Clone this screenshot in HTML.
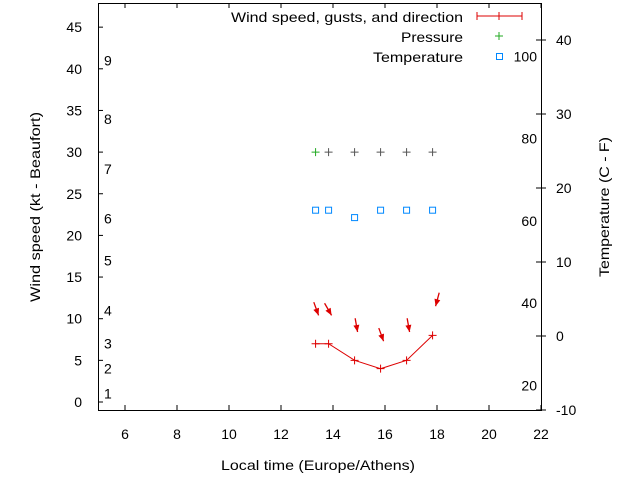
<!DOCTYPE html>
<html><head><meta charset="utf-8"><style>
body{margin:0;background:#fff;}
svg{display:block;font-family:"Liberation Sans",sans-serif;font-size:14px;}
</style></head><body>
<svg id="chart" width="640" height="480" viewBox="0 0 640 480">
<rect x="98.5" y="3.5" width="443" height="407" fill="none" stroke="#000"/>
<g id="axes"></g><g id="marks"></g>
<text x="318" y="470" text-anchor="middle" textLength="194" lengthAdjust="spacingAndGlyphs">Local time (Europe/Athens)</text>
<text transform="translate(40,207) rotate(-90)" text-anchor="middle" textLength="190" lengthAdjust="spacingAndGlyphs">Wind speed (kt - Beaufort)</text>
<text transform="translate(609,207) rotate(-90)" text-anchor="middle" textLength="140" lengthAdjust="spacingAndGlyphs">Temperature (C - F)</text>
<g>
<text x="463" y="22" text-anchor="end" textLength="232" lengthAdjust="spacingAndGlyphs">Wind speed, gusts, and direction</text>
<path d="M477 16H522M477 12v8M522 12v8M499 12v8" stroke="#d00" fill="none"/>
<text x="463" y="42" text-anchor="end" textLength="62" lengthAdjust="spacingAndGlyphs">Pressure</text>
<path d="M495 36h8M499 32v8" stroke="#2a2"/>
<text x="463" y="62" text-anchor="end" textLength="90" lengthAdjust="spacingAndGlyphs">Temperature</text>
<rect x="496.5" y="53.5" width="6" height="6" fill="none" stroke="#08f"/>
</g>
</svg>
<script>
const times=[13.33,13.83,14.83,15.83,16.83,17.83];
const wind=[7,7,5,4,5,8];
const pressure=[30,30,30,30,30,30];
const temperature=[17,17,16,17,17,17];
const arrowTip=[10.4,10.4,8.4,7.3,8.4,11.5];
const arrowAngle=[20,30,10,20,10,-15];
const xTicks=[6,8,10,12,14,16,18,20,22];
const yTicks=[0,5,10,15,20,25,30,35,40,45];
const y2Ticks=[-10,0,10,20,30,40];
const fTicks=[20,40,60,80,100];
const beaufort=[[1,1],[2,4],[3,7],[4,11],[5,17],[6,22],[7,28],[8,34],[9,41]];
const X=v=>99+(v-5)*26, Y=v=>402-v*8.33, Y2=v=>410-(v+10)*7.4;
const NS='http://www.w3.org/2000/svg';
const ax=document.getElementById('axes'), mk=document.getElementById('marks');
function el(t,a,p,txt){const e=document.createElementNS(NS,t);for(const k in a)e.setAttribute(k,a[k]);if(txt!=null)e.textContent=txt;p.appendChild(e);return e;}
xTicks.forEach(v=>{const x=X(v);
el('path',{d:`M${x} 410v-5M${x} 3v5`,stroke:'#000'},ax);
const t=el('text',{x:x,y:439,'text-anchor':'middle'},ax,v);

});
yTicks.forEach(v=>{const y=Y(v);
el('path',{d:`M98 ${y}h5`,stroke:'#000'},ax);
const t=el('text',{x:82,y:y+5,'text-anchor':'end'},ax,v);

});
y2Ticks.forEach(v=>{const y=Y2(v);
el('path',{d:`M541 ${y}h-5M541 ${y}h5`,stroke:'#000'},ax);
const t=el('text',{x:556,y:y+5},ax,v);

});
fTicks.forEach(v=>{const y=Y2((v-32)*5/9);
const t=el('text',{x:537,y:y+5,'text-anchor':'end'},ax,v);

});
beaufort.forEach(([b,k])=>{const t=el('text',{x:104,y:Y(k)+5},ax,b);

});
const line=el('polyline',{points:times.map((t,i)=>X(t)+','+Y(wind[i])).join(' '),fill:'none',stroke:'#d00'},mk);


times.forEach((t,i)=>{const x=X(t);
const w=el('path',{d:`M${x-4} ${Y(wind[i])}h8M${x} ${Y(wind[i])-4}v8`,stroke:'#d00'},mk);


const p=el('path',{d:`M${x-4} ${Y(pressure[i])}h8M${x} ${Y(pressure[i])-4}v8`,stroke:i==0?'#2a2':'#555'},mk);


const ty=Y2(temperature[i]);
const r=el('rect',{x:x-3,y:ty-3,width:6,height:6,fill:'none',stroke:'#08f'},mk);


const a=arrowAngle[i]*Math.PI/180, tx=x+3, tyy=Y(arrowTip[i]);
const dx=Math.sin(a), dy=Math.cos(a);
const sx=tx-dx*14, sy=tyy-dy*14;
const g=el('g',{},mk);


el('line',{x1:sx,y1:sy,x2:tx,y2:tyy,stroke:'#d00','stroke-width':1.3},g);
const px=-dy, py=dx;
el('polygon',{points:`${tx},${tyy} ${tx-dx*7+px*3},${tyy-dy*7+py*3} ${tx-dx*7-px*3},${tyy-dy*7-py*3}`,fill:'#d00'},g);
});
</script>
</body></html>
